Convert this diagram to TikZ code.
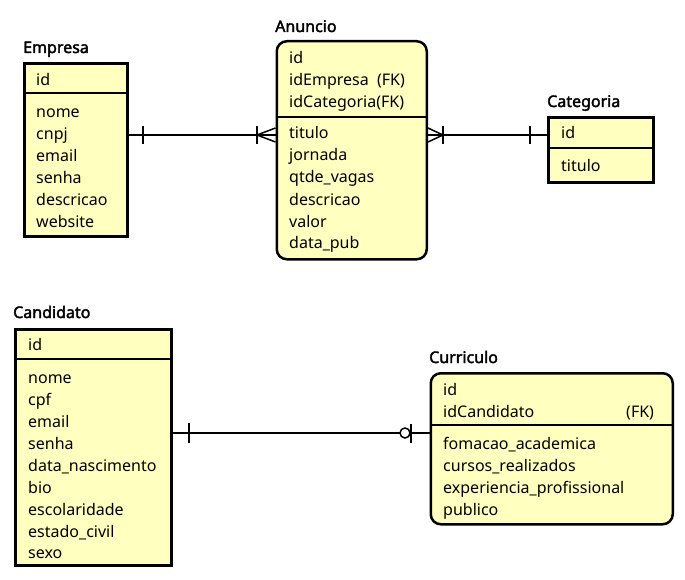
\documentclass[tikz,border=0pt]{standalone}
\usepackage{fontspec}
\setmainfont{Noto Sans}[AutoFakeBold=2.2]
\usepackage{xcolor}
\usepackage{tikz}
\usetikzlibrary{positioning}

\definecolor{entityfill}{HTML}{FFFFC0}

\begin{document}
\begin{tikzpicture}[x=1pt, y=-1pt, font=\fontsize{16pt}{22pt}\selectfont,
		entity/.style={draw, line width=3pt, fill=entityfill, inner sep=0pt, anchor=north west},
		roundentity/.style={entity, line width=2.5pt, rounded corners=10pt},
		divider/.style={draw, line width=1.5pt},
		rel/.style={draw, line width=1.5pt},
		field/.style={anchor=base west, inner sep=0pt},
		entityname/.style={anchor=base west, inner sep=0pt, font=\fontsize{16pt}{22pt}\selectfont\bfseries}]
		\useasboundingbox (0,0) rectangle (685,580);
		% Empresa
		\node [entityname] (empresaLabel) at (23,53) {Empresa};
		\node [entity, minimum width=103pt, minimum height=173pt] (empresa) at (22.5,62) {};
		\path [divider] ([yshift=-31pt]empresa.north west) -- ([yshift=-31pt]empresa.north east);
		\node [field] (empresaId) at (36,86) {id};
		\node [field] (empresaNome) at (36,118) {nome};
		\node [field] (empresaCnpj) at (36,140) {cnpj};
		\node [field] (empresaEmail) at (36,162) {email};
		\node [field] (empresaSenha) at (36,184) {senha};
		\node [field] (empresaDescricao) at (36,206) {descricao};
		\node [field] (empresaWebsite) at (36,227) {website};
		% Anuncio
		\node [entityname] (anuncioLabel) at (275,32) {Anuncio};
		\node [roundentity, minimum width=150pt, minimum height=218pt] (anuncio) at (275.5,40) {};
		\path [divider] ([yshift=-77pt]anuncio.north west) -- ([yshift=-77pt]anuncio.north east);
		\node [field] (anuncioId) at (289,64) {id};
		\node [field] (anuncioIdEmpresa) at (289,86) {idEmpresa\ \ (FK)};
		\node [field] (anuncioIdCategoria) at (289,108) {idCategoria(FK)};
		\node [field] (anuncioTitulo) at (289,139) {titulo};
		\node [field] (anuncioJornada) at (289,161) {jornada};
		\node [field] (anuncioVagas) at (289,183) {qtde\_vagas};
		\node [field] (anuncioDescricao) at (289,205) {descricao};
		\node [field] (anuncioValor) at (289,227) {valor};
		\node [field] (anuncioData) at (289,248) {data\_pub};
		% Categoria
		\node [entityname] (categoriaLabel) at (547,107) {Categoria};
		\node [entity, minimum width=105.5pt, minimum height=65pt] (categoria) at (546.5,116) {};
		\path [divider] ([yshift=-32pt]categoria.north west) -- ([yshift=-32pt]categoria.north east);
		\node [field] (categoriaId) at (561,139) {id};
		\node [field] (categoriaTitulo) at (561,172) {titulo};
		% Candidato
		\node [entityname] (candidatoLabel) at (13,318) {Candidato};
		\node [entity, minimum width=156.5pt, minimum height=236pt] (candidato) at (13.5,328) {};
		\path [divider] ([yshift=-31pt]candidato.north west) -- ([yshift=-31pt]candidato.north east);
		\node [field] (candidatoId) at (28,350) {id};
		\node [field] (candidatoNome) at (28,383) {nome};
		\node [field] (candidatoCpf) at (28,405) {cpf};
		\node [field] (candidatoEmail) at (28,427) {email};
		\node [field] (candidatoSenha) at (28,449) {senha};
		\node [field] (candidatoNascimento) at (28,471) {data\_nascimento};
		\node [field] (candidatoBio) at (28,493) {bio};
		\node [field] (candidatoEscolaridade) at (28,515) {escolaridade};
		\node [field] (candidatoCivil) at (28,537) {estado\_civil};
		\node [field] (candidatoSexo) at (28,558) {sexo};
		% Curriculo
		\node [entityname] (curriculoLabel) at (429,363) {Curriculo};
		\node [roundentity, minimum width=242pt, minimum height=151pt] (curriculo) at (429.5,372) {};
		\path [divider] ([yshift=-53pt]curriculo.north west) -- ([yshift=-53pt]curriculo.north east);
		\node [field] (curriculoId) at (443,395) {id};
		\node [field] (curriculoIdCandidato) at (443,417) {idCandidato};
		\node [field] (curriculoFk) at (626,417) {(FK)};
		\node [field] (curriculoFormacao) at (443,449) {fomacao\_academica};
		\node [field] (curriculoCursos) at (443,471) {cursos\_realizados};
		\node [field] (curriculoExperiencia) at (443,493) {experiencia\_profissional};
		\node [field] (curriculoPublico) at (443,515) {publico};
		% Empresa -- Anuncio
		\path [rel] (empresa.east |- 0,135) -- (anuncio.west |- 0,135);
		\path [rel] (143,126) -- (143,144);
		\path [rel] (257,126) -- (257,144);
		\path [rel] (257,135) -- (anuncio.west |- 0,128);
		\path [rel] (257,135) -- (anuncio.west |- 0,142);
		% Anuncio -- Categoria
		\path [rel] (anuncio.east |- 0,135) -- (categoria.west |- 0,135);
		\path [rel] (443,126) -- (443,144);
		\path [rel] (530,126) -- (530,144);
		\path [rel] (443,135) -- (anuncio.east |- 0,128);
		\path [rel] (443,135) -- (anuncio.east |- 0,142);
		% Candidato -- Curriculo
		\path [rel] (candidato.east |- 0,433) -- (400,433);
		\path [rel] (410,433) -- (curriculo.west |- 0,433);
		\path [rel] (189,423) -- (189,443);
		\path [rel] (405,433) circle (5pt);
		\path [rel] (411,424) -- (411,443);
	\end{tikzpicture}
\end{document}
